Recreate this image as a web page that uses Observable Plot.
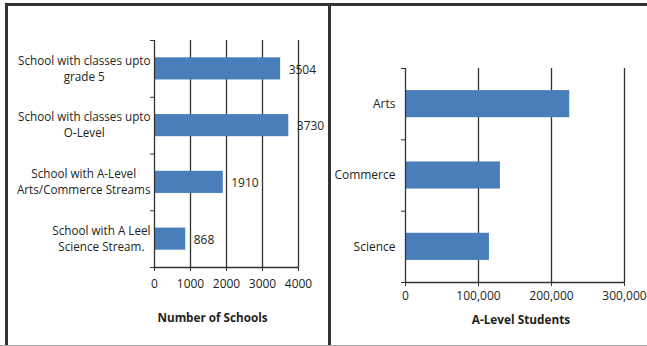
<!DOCTYPE html>
<html>
<head>
<meta charset="utf-8">
<script src="https://cdn.jsdelivr.net/npm/d3@7"></script>
<script src="https://cdn.jsdelivr.net/npm/@observablehq/plot@0.6"></script>
<style>
  html, body { margin: 0; padding: 0; background: #fff; }
  #page { position: relative; width: 647px; height: 346px; overflow: hidden; background: #fff; }
  #page svg { position: absolute; top: 0; }
  .line { position: absolute; background: #333; z-index: 2; }
</style>
</head>
<body>
<div id="page">
  <div class="line" style="left:5px; top:3px; width:642px; height:3px;"></div>
  <div class="line" style="left:5px; top:3px; width:3px; height:343px;"></div>
  <div class="line" style="left:328px; top:3px; width:3px; height:343px;"></div>
  <div class="line" style="left:0; top:345px; width:647px; height:1px; background:#a0a0a0;"></div>
</div>
<script>
// Schools by highest level taught
const schoolTypes = [
  "School with classes upto\ngrade 5",
  "School with classes upto\nO-Level",
  "School with A-Level\nArts/Commerce Streams",
  "School with A Leel\nScience Stream."
];
const schoolCounts = [3504, 3730, 1910, 868];
const schoolTicks = [0, 1000, 2000, 3000, 4000];

// A-Level enrolment by stream
const streams = ["Arts", "Commerce", "Science"];
const streamStudents = [225000, 130000, 115000];
const studentTicks = [0, 100000, 200000, 300000];

const FONT = "'Open Sans', sans-serif";
const INK = "#231f20";
const GRID = "#333";
const BLUE = "#4a7ebb";
const LABEL_SIZE = 11.7;
const LINE_GAP = 15.8;

const page = document.getElementById("page");

// text widths, used to right-align each label block while centring its lines
const ctx = document.createElement("canvas").getContext("2d");
function textWidth(s, size) {
  ctx.font = `${size}px 'Open Sans'`;
  return ctx.measureText(s).width;
}

const schoolRows = schoolTypes.map((name, i) => ({name, i, value: schoolCounts[i]}));
const streamRows = streams.map((name, i) => ({name, i, value: streamStudents[i]}));

// one text mark per label line, anchored at the end so the block sits 4px left of the axis
const schoolLabelMarks = schoolRows.flatMap(r => {
  const lines = r.name.split("\n");
  const widths = lines.map(s => textWidth(s, LABEL_SIZE));
  const W = d3.max(widths);
  return lines.map((line, j) => Plot.text([r], {
    x: 0, y: d => d.i + 0.5, text: () => line, textAnchor: "end",
    dx: -(4 + (W - widths[j]) / 2), dy: (j - (lines.length - 1) / 2) * LINE_GAP,
    fill: INK, fontSize: LABEL_SIZE
  }));
});

const left = Plot.plot({
  width: 330,
  height: 346,
  marginLeft: 154,
  marginRight: 32,
  marginTop: 40,
  marginBottom: 79,
  style: {fontFamily: FONT, fontSize: "12px", color: INK, background: "none", overflow: "visible"},
  x: {domain: [0, 4000]},
  y: {domain: [0, schoolTypes.length], reverse: true},
  marks: [
    Plot.ruleX(schoolTicks.slice(1), {stroke: GRID, strokeWidth: 1.3}),
    Plot.rectX(schoolRows, {x1: 0, x2: "value", y1: d => d.i + 0.305, y2: d => d.i + 0.695, fill: BLUE}),
    Plot.ruleX([0], {stroke: GRID, strokeWidth: 1.3}),
    Plot.ruleY([schoolTypes.length], {stroke: GRID, strokeWidth: 1.3}),
    Plot.axisY({ticks: d3.range(schoolTypes.length + 1), tickSize: 4, tickFormat: () => "", stroke: GRID, label: null}),
    Plot.axisX({ticks: schoolTicks, tickSize: 4, tickPadding: 8, tickFormat: d3.format("d"), stroke: GRID, fill: INK, label: null, fontSize: 12}),
    Plot.text(schoolRows, {x: "value", y: d => d.i + 0.5, text: d => String(d.value), textAnchor: "start", dx: 8, dy: 1, fill: INK, fontSize: 12}),
    ...schoolLabelMarks,
    Plot.text(["Number of Schools"], {frameAnchor: "bottom", dx: -14, dy: 54, fontWeight: "bold", fill: INK, fontSize: 11.7})
  ]
});
left.style.left = "0px";
page.appendChild(left);

const right = Plot.plot({
  width: 317,
  height: 346,
  marginLeft: 75,
  marginRight: 23,
  marginTop: 68,
  marginBottom: 64,
  style: {fontFamily: FONT, fontSize: "12px", color: INK, background: "none", overflow: "visible"},
  x: {domain: [0, 300000]},
  y: {domain: [0, streams.length], reverse: true},
  marks: [
    Plot.ruleX(studentTicks.slice(1), {stroke: GRID, strokeWidth: 1.3}),
    Plot.rectX(streamRows, {x1: 0, x2: "value", y1: d => d.i + 0.31, y2: d => d.i + 0.69, fill: BLUE}),
    Plot.ruleX([0], {stroke: GRID, strokeWidth: 1.3}),
    Plot.ruleY([streams.length], {stroke: GRID, strokeWidth: 1.3}),
    Plot.axisY({ticks: d3.range(streams.length + 1), tickSize: 4, tickFormat: () => "", stroke: GRID, label: null}),
    Plot.axisX({ticks: studentTicks, tickSize: 4, tickPadding: 5, tickFormat: d3.format(","), stroke: GRID, fill: INK, label: null, fontSize: 12}),
    Plot.text(streamRows, {x: 0, y: d => d.i + 0.5, text: "name", textAnchor: "end", dx: -10, fill: INK, fontSize: 12}),
    Plot.text(["A-Level Students"], {frameAnchor: "bottom", dx: 6, dy: 41, fontWeight: "bold", fill: INK, fontSize: 11.8})
  ]
});
right.style.left = "330px";
page.appendChild(right);
</script>
</body>
</html>
